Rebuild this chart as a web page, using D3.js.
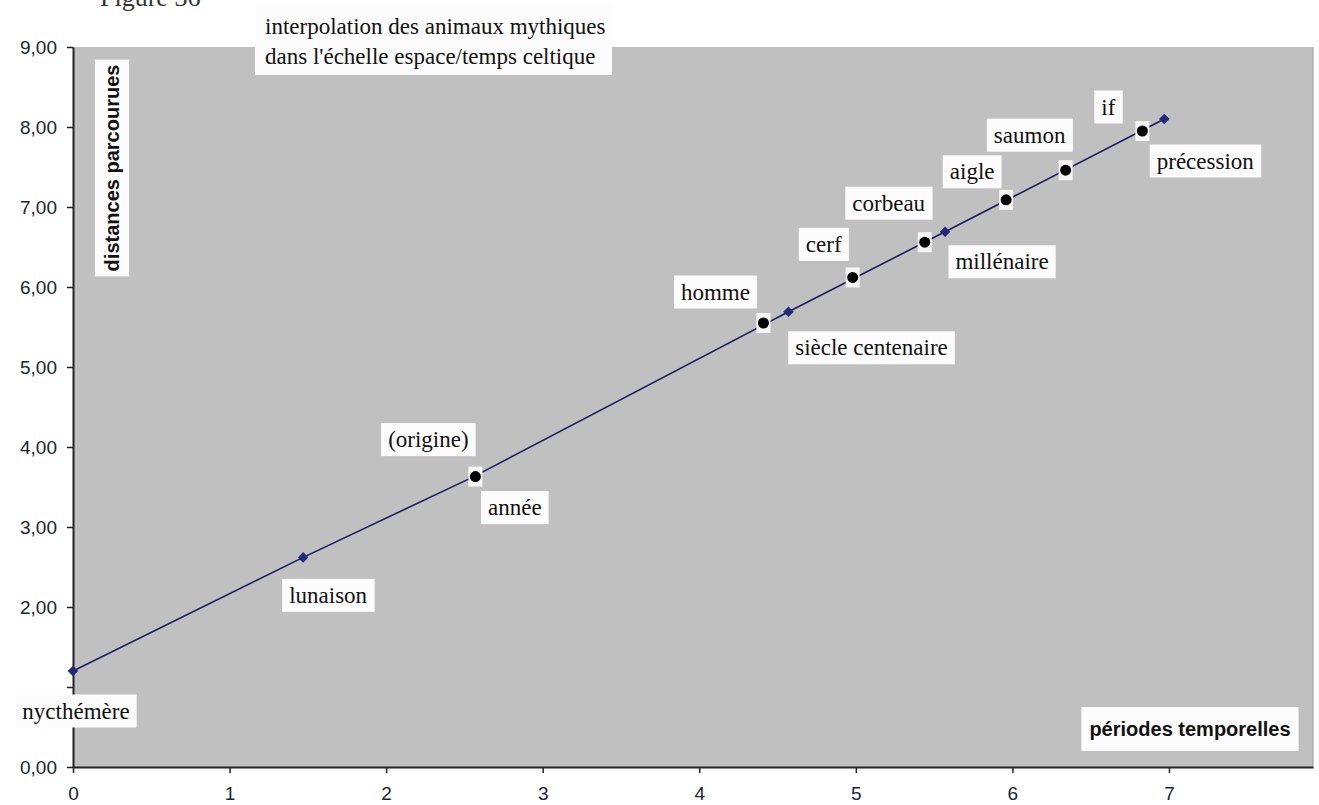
<!DOCTYPE html>
<html>
<head>
<meta charset="utf-8">
<script src="https://cdn.jsdelivr.net/npm/d3@7"></script>
<style>
  body { margin: 0; background: #fff; }
  svg { display: block; }
</style>
</head>
<body>
<svg width="1319" height="805"></svg>
<script>
'use strict'

// periods (diamonds + line)
let periodNames = ['nycthémère', 'lunaison', 'année', 'siècle centenaire', 'millénaire', 'précession'];
let periodX = [0, 1.47, 2.56, 4.57, 5.57, 6.97];
let periodY = [1.2, 2.62, 3.63, 5.69, 6.69, 8.1];

// mythical animals (black dots)
let animalNames = ['(origine)', 'homme', 'cerf', 'corbeau', 'aigle', 'saumon', 'if'];
let animalX = [2.57, 4.41, 4.98, 5.44, 5.96, 6.34, 6.83];
let animalY = [3.63, 5.55, 6.12, 6.56, 7.09, 7.46, 7.95];

let xTicks = [0, 1, 2, 3, 4, 5, 6, 7];
let yTicks = [0, 1, 2, 3, 4, 5, 6, 7, 8, 9];
let yTickLabels = ['0,00', '', '2,00', '3,00', '4,00', '5,00', '6,00', '7,00', '8,00', '9,00'];

let titleLines = ['interpolation des animaux mythiques', "dans l'échelle espace/temps celtique"];
let xTitle = 'périodes temporelles';
let yTitle = 'distances parcourues';

// label placement (pixels from the point)
let labelOffset = {
    'nycthémère': [3, 40],
    'lunaison': [25, 38],
    'année': [41, 31],
    'siècle centenaire': [83, 36],
    'millénaire': [57, 30],
    'précession': [41, 42],
    '(origine)': [-47, -37],
    'homme': [-48, -31],
    'cerf': [-29, -33],
    'corbeau': [-36, -39],
    'aigle': [-34, -28],
    'saumon': [-36, -35],
    'if': [-34, -24]
};

let periods = periodNames.map(function(n, i) { return {name: n, x: periodX[i], y: periodY[i]}; });
let animals = animalNames.map(function(n, i) { return {name: n, x: animalX[i], y: animalY[i]}; });

let svg = d3.select('svg');
let plotLeft = 73, plotTop = 47, plotRight = 1313, plotBottom = 767;

let x = d3.scaleLinear().domain([0, 7.92]).range([plotLeft, plotRight]);
let y = d3.scaleLinear().domain([0, 9]).range([plotBottom, plotTop]);

let serif = "'Liberation Serif', 'Times New Roman', serif";
let sans = "'Liberation Sans', Arial, sans-serif";

// partially visible caption above the chart
svg.append('text')
    .attr('x', 100).attr('y', 6)
    .style('font-family', serif).style('font-size', '26px').style('fill', '#333')
    .text('Figure 36');

// plot area
svg.append('rect')
    .attr('x', plotLeft).attr('y', plotTop)
    .attr('width', plotRight - plotLeft).attr('height', plotBottom - plotTop)
    .attr('fill', '#c0c0c0');
svg.append('line')
    .attr('x1', plotRight).attr('x2', plotRight)
    .attr('y1', plotTop).attr('y2', plotBottom)
    .attr('stroke', '#9a9a9a');

// axes
let xAxis = svg.append('g')
    .attr('transform', 'translate(0,' + plotBottom + ')')
    .call(d3.axisBottom(x).tickValues(xTicks).tickSizeInner(6).tickSizeOuter(0)
        .tickPadding(14).tickFormat(d3.format('d')));
xAxis.select('.domain').attr('stroke', '#222').attr('stroke-width', 2);
xAxis.selectAll('.tick line').attr('stroke', '#222').attr('stroke-width', 1.5);
xAxis.selectAll('.tick text').style('font-family', sans).style('font-size', '19px').style('fill', '#1a2530');

let yAxis = svg.append('g')
    .attr('transform', 'translate(' + plotLeft + ',0)')
    .call(d3.axisLeft(y).tickValues(yTicks).tickSizeInner(6).tickSizeOuter(0).tickPadding(10)
        .tickFormat(function(d, i) { return yTickLabels[i]; }));
yAxis.select('.domain').attr('stroke', '#222').attr('stroke-width', 2);
yAxis.selectAll('.tick line').attr('stroke', '#222').attr('stroke-width', 1.5);
yAxis.selectAll('.tick text').style('font-family', sans).style('font-size', '19px').style('fill', '#1a2530');

// line through periods
svg.append('path')
    .datum(periods)
    .attr('fill', 'none')
    .attr('stroke', '#1c1c66')
    .attr('stroke-width', 1.6)
    .attr('d', d3.line().x(function(d) { return x(d.x); }).y(function(d) { return y(d.y); }));

// diamonds
svg.append('g')
    .selectAll('path')
    .data(periods)
    .enter().append('path')
    .attr('d', d3.symbol(d3.symbolSquare, 56))
    .attr('transform', function(d) { return 'translate(' + x(d.x) + ',' + y(d.y) + ') rotate(45)'; })
    .attr('fill', '#1f2a7a');

// animal dots with a small white square behind
let dots = svg.append('g')
    .selectAll('g')
    .data(animals)
    .enter().append('g')
    .attr('transform', function(d) { return 'translate(' + x(d.x) + ',' + y(d.y) + ')'; });
dots.append('rect')
    .attr('x', -7).attr('y', -10).attr('width', 14).attr('height', 20)
    .attr('fill', '#f7f4f4');
dots.append('circle')
    .attr('r', 5.5)
    .attr('fill', '#000');

// boxed labels
function boxedLabel(g, text, font, size, weight, padX, padY) {
    let t = g.append('text')
        .attr('text-anchor', 'middle')
        .attr('dominant-baseline', 'central')
        .style('font-family', font).style('font-size', size).style('font-weight', weight)
        .style('fill', '#111')
        .text(text);
    let b = t.node().getBBox();
    g.insert('rect', 'text')
        .attr('x', b.x - padX).attr('y', b.y - padY)
        .attr('width', b.width + 2 * padX).attr('height', b.height + 2 * padY)
        .attr('fill', '#fdfcfc');
}

periods.concat(animals).forEach(function(d) {
    let off = labelOffset[d.name];
    let g = svg.append('g')
        .attr('transform', 'translate(' + (x(d.x) + off[0]) + ',' + (y(d.y) + off[1]) + ')');
    boxedLabel(g, d.name, serif, '23px', 'normal', 7, 4);
});

// title box
let tg = svg.append('g');
tg.append('rect')
    .attr('x', 255).attr('y', 4).attr('width', 357).attr('height', 71)
    .attr('fill', '#fdfcfc');
tg.selectAll('text')
    .data(titleLines)
    .enter().append('text')
    .attr('x', 265)
    .attr('y', function(d, i) { return 34 + i * 30; })
    .style('font-family', serif).style('font-size', '23px').style('fill', '#111')
    .text(function(d) { return d; });

// axis titles
let xt = svg.append('g').attr('transform', 'translate(1190,729)');
boxedLabel(xt, xTitle, sans, '20px', 'bold', 8, 11);

let yt = svg.append('g').attr('transform', 'translate(112,168) rotate(-90)');
boxedLabel(yt, yTitle, sans, '20px', 'bold', 5, 6);
</script>
</body>
</html>
